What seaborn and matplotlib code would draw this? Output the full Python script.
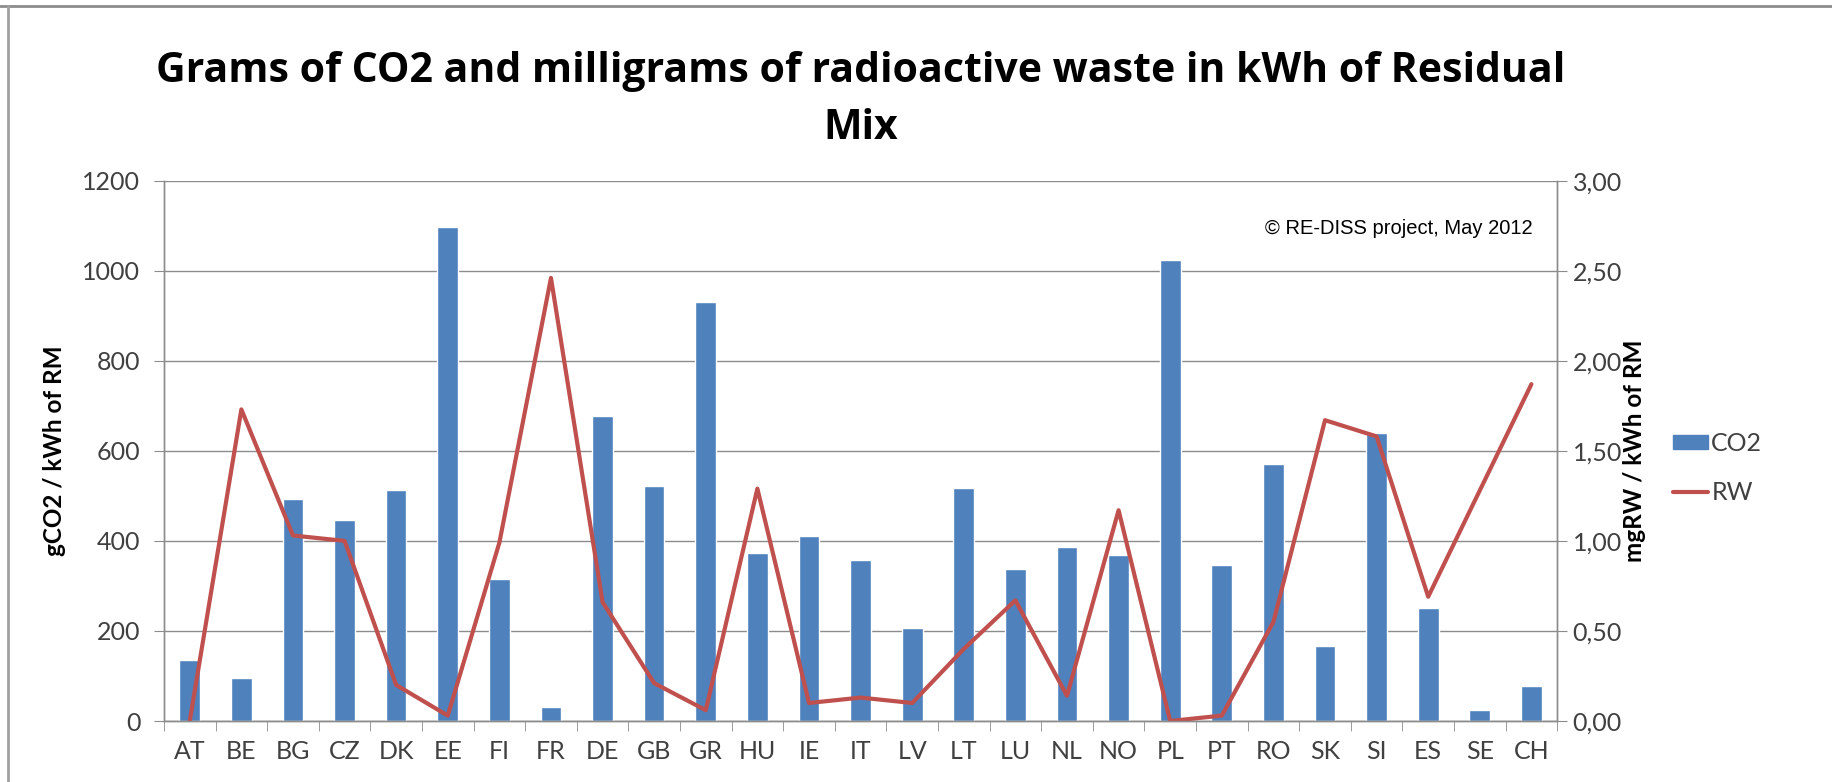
import matplotlib
matplotlib.use('Agg')

import numpy as np
import pandas as pd
import seaborn as sns
import matplotlib.pyplot as plt

from matplotlib.patches import Patch
from matplotlib.lines import Line2D
from matplotlib.ticker import FuncFormatter, FixedLocator


countries = ["AT", "BE", "BG", "CZ", "DK", "EE", "FI", "FR", "DE", "GB", "GR", "HU", "IE", "IT",
             "LV", "LT", "LU", "NL", "NO", "PL", "PT", "RO", "SK", "SI", "ES", "SE", "CH"]
co2 = [135, 95, 493, 447, 514, 1096, 316, 32, 678, 522, 930, 372, 410, 358,
       206, 517, 338, 387, 369, 1023, 346, 571, 166, 639, 252, 24, 78]
rw = [0.00, 1.73, 1.03, 1.00, 0.20, 0.03, 0.99, 2.46, 0.66, 0.21, 0.06, 1.29, 0.10, 0.13,
      0.10, 0.40, 0.67, 0.14, 1.17, 0.00, 0.03, 0.55, 1.67, 1.58, 0.69, 1.28, 1.87]

left_ticks = [0, 200, 400, 600, 800, 1000, 1200]
right_ticks = [0.0, 0.5, 1.0, 1.5, 2.0, 2.5, 3.0]

bar_color = "#4F81BD"
line_color = "#C0504D"
grid_color = "#8C8C8C"
text_color = "#404040"

sns.set_style("white")
plt.rcParams['font.family'] = ['Lato', 'DejaVu Sans']

df = pd.DataFrame({"country": countries, "CO2": co2, "RW": rw})

fig = plt.figure(figsize=(18.32, 7.82), dpi=100)
ax = fig.add_axes([0.0895, 0.078, 0.7605, 0.691])

sns.barplot(data=df, x="country", y="CO2", color=bar_color, width=0.4, saturation=1, ax=ax)

ax2 = ax.twinx()
sns.pointplot(data=df, x="country", y="RW", color=line_color, markers="", linewidth=3, ax=ax2)

n = len(countries)
ax.set_xlim(-0.5, n - 0.5)
ax.set_ylim(0, 1200)
ax2.set_ylim(0, 3)
ax.set_yticks(left_ticks)
ax2.set_yticks(right_ticks)
ax2.yaxis.set_major_formatter(FuncFormatter(lambda v, p: ("%.2f" % v).replace(".", ",")))

ax.grid(axis="y", color=grid_color, linewidth=1)
ax.set_axisbelow(True)
ax2.grid(False)

# tick marks between categories
ax.xaxis.set_minor_locator(FixedLocator(np.arange(-0.5, n, 1.0)))
ax.tick_params(axis="x", which="major", length=0, labelsize=18, labelcolor=text_color, pad=14)
ax.tick_params(axis="x", which="minor", length=7, color=grid_color, direction="out", bottom=True)
ax.tick_params(axis="y", length=7, color=grid_color, labelsize=18, labelcolor=text_color, left=True, pad=10)
ax2.tick_params(axis="y", length=7, color=grid_color, labelsize=18, labelcolor=text_color, right=True, pad=4)

for a in (ax, ax2):
    for s in a.spines.values():
        s.set_color(grid_color)
        s.set_linewidth(1)
    a.spines["top"].set_visible(False)
    a.set_xlabel("")

ax.set_ylabel("gCO2 / kWh of RM", fontsize=17.5, fontweight="bold", color="#000000")
ax2.set_ylabel("mgRW / kWh of RM", fontsize=17.5, fontweight="bold", color="#000000")
ax.yaxis.set_label_coords(-0.0705, 0.5)
ax2.yaxis.set_label_coords(1.047, 0.5)

fig.text(0.47, 0.872, "Grams of CO2 and milligrams of radioactive waste in kWh of Residual\nMix",
         ha="center", va="center", fontsize=29.5, fontweight="bold", family=["Open Sans", "DejaVu Sans"],
         linespacing=1.5, color="#000000")

ax.text(0.9825, 0.912, "\u00a9 RE-DISS project, May 2012", transform=ax.transAxes, ha="right", va="center",
        fontsize=14.5, family=["Liberation Sans", "DejaVu Sans"], color="#000000")

handles = [Patch(color=bar_color, label="CO2"), Line2D([0], [0], color=line_color, lw=3, label="RW")]
fig.legend(handles=handles, loc="center left", bbox_to_anchor=(0.913, 0.402), frameon=False,
           fontsize=18, labelcolor=text_color, handlelength=1.4, handleheight=0.5, handletextpad=0.15,
           labelspacing=1.05, borderaxespad=0, borderpad=0)

# chart frame: only top and left edges are visible in the screenshot
fig.add_artist(Line2D([0, 1], [0.9925, 0.9925], transform=fig.transFigure, color="#8C8C8C", lw=2))
fig.add_artist(Line2D([0.0045, 0.0045], [0, 0.9925], transform=fig.transFigure, color="#A0A0A0", lw=2))

fig.savefig("out.png", dpi=100)
